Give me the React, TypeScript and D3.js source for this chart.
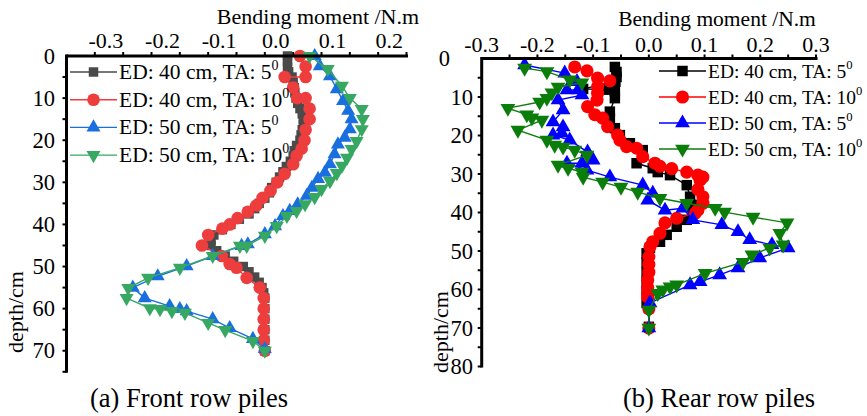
import * as d3 from 'd3';

// ---- data: [depth (cm), bending moment (N.m)] ----
const frontED40TA5: [number, number][] = [
  [0, 0.04], [1.25, 0.04], [2.5, 0.04], [3.75, 0.042], [5, 0.048], [6.25, 0.05], [7.5, 0.052],
  [8.75, 0.053], [10, 0.055], [11.25, 0.058], [12.5, 0.062], [13.75, 0.066], [15, 0.068],
  [16.25, 0.068], [17.5, 0.066], [18.75, 0.064], [20, 0.062], [21.25, 0.056], [22.5, 0.052],
  [23.75, 0.05], [25, 0.045], [26.25, 0.038], [27.5, 0.032], [28.75, 0.026], [30, 0.02],
  [31.25, 0.012], [32.5, 0.008], [33.75, 0], [35, -0.01], [36.25, -0.018], [37.5, -0.028],
  [38.75, -0.045], [40, -0.06], [41.25, -0.075], [42.5, -0.09], [43.75, -0.095], [45, -0.095],
  [46.25, -0.085], [47.5, -0.07], [48.75, -0.055], [50, -0.038], [51.25, -0.028], [52.5, -0.018],
  [53.75, -0.01], [55, -0.005], [56.25, -0.002], [57.5, 0], [60, 0], [62.5, 0], [65, 0],
  [67.5, 0], [70, 0],
];
const frontED40TA10: [number, number][] = [
  [0, 0.062], [2.5, 0.072], [5, 0.072], [5, 0.035], [7.5, 0.05], [10, 0.057], [10, 0.072],
  [12.5, 0.079], [15, 0.079], [17.5, 0.072], [20, 0.07], [22, 0.065], [23.7, 0.056], [25.7, 0.05],
  [28, 0.035], [30, 0.022], [32, 0.01], [33.7, -0.004], [35.5, -0.015], [37, -0.03],
  [38.5, -0.048], [40, -0.062], [41, -0.075], [42.5, -0.1], [45, -0.111], [47.5, -0.076],
  [49.4, -0.062], [50.3, -0.05], [52.7, -0.032], [55, -0.009], [57.5, -0.002], [60, -0.002],
  [62.5, -0.002], [65, -0.002], [67.5, -0.002], [70, 0],
];
const frontED50TA5: [number, number][] = [
  [0, 0.088], [2.4, 0.097], [4.8, 0.115], [7.9, 0.127], [10.7, 0.138], [13, 0.147], [15, 0.153],
  [17.4, 0.15], [19.4, 0.141], [21, 0.129], [23.3, 0.123], [25.7, 0.115], [27.7, 0.106],
  [29.2, 0.094], [31.3, 0.083], [33.2, 0.074], [35.2, 0.058], [36.8, 0.044], [38, 0.032],
  [40.4, 0.018], [42.3, 0], [44.7, -0.03], [45.1, -0.041], [47.5, -0.092], [49.9, -0.138],
  [52.3, -0.189], [55, -0.233], [57.5, -0.212], [59.4, -0.168], [60.1, -0.15], [60.6, -0.138],
  [62.5, -0.092], [64.6, -0.062], [67.2, -0.021], [69.6, 0],
];
const frontED50TA10: [number, number][] = [
  [0, 0.079], [3.1, 0.111], [7.1, 0.136], [10, 0.15], [12.6, 0.171], [15, 0.173], [17.4, 0.171],
  [20.2, 0.162], [22.1, 0.153], [24.2, 0.145], [26.1, 0.136], [27.8, 0.127], [29.7, 0.115],
  [31.6, 0.1], [33.5, 0.088], [35.2, 0.071], [36.8, 0.056], [38, 0.039], [40.4, 0.021],
  [42.7, 0], [45.1, -0.032], [45.1, -0.044], [47.5, -0.092], [50.3, -0.15], [52.7, -0.206],
  [55.1, -0.241], [57.5, -0.244], [59.9, -0.203], [60.1, -0.185], [60.6, -0.164], [61, -0.141],
  [63.4, -0.1], [65.1, -0.07], [67.7, -0.021], [70, 0],
];

const rearED40TA5: [number, number][] = [
  [2.2, -0.061], [3.5, -0.058], [4.8, -0.058], [6, -0.06], [7.9, -0.118], [8.1, -0.075],
  [8.5, -0.061], [10.3, -0.061], [13.8, -0.07], [15.5, -0.07], [18.1, -0.061], [19.9, -0.052],
  [22, -0.034], [23.8, -0.011], [27.2, -0.022], [28.5, 0.007], [29.5, 0.016], [30.3, 0.038],
  [32.9, 0.068], [35.9, 0.074], [38, 0.077], [39.9, 0.079], [41.9, 0.068], [43.7, 0.05],
  [45.8, 0.032], [47.6, 0.02], [49.2, 0.002], [50.6, -0.004], [53, -0.004], [55.5, -0.004],
  [58, -0.004], [60.5, -0.004], [63.5, -0.004], [64.8, 0], [69.7, 0],
];
const rearED40TA10: [number, number][] = [
  [2.2, -0.133], [3.2, -0.111], [5.1, -0.092], [5.8, -0.07], [7.3, -0.092], [9, -0.092],
  [10.8, -0.093], [12.5, -0.11], [14.6, -0.097], [15.5, -0.083], [17.7, -0.074], [19.9, -0.056],
  [21.2, -0.052], [22.9, -0.04], [23.3, -0.022], [25.5, -0.011], [27.2, 0.011], [28, 0.02],
  [28.6, 0.041], [29.5, 0.068], [30.3, 0.088], [30.8, 0.097], [31.6, 0.092], [34, 0.088],
  [35.9, 0.097], [37.6, 0.097], [39.4, 0.088], [40.2, 0.083], [41.5, 0.05], [42.7, 0.029],
  [45.4, 0.02], [47.6, 0.007], [48.9, 0.002], [51.5, 0], [53.5, 0], [55.5, 0], [57.5, -0.002],
  [59.5, -0.002], [61, -0.002], [62, -0.002], [65, 0], [70, 0],
];
const rearED50TA5: [number, number][] = [
  [1.7, -0.223], [3.8, -0.151], [6, -0.129], [8.2, -0.127], [8.2, -0.147], [9.5, -0.12],
  [10.8, -0.163], [13.4, -0.154], [16.5, -0.172], [17.8, -0.154], [19.4, -0.156], [19.9, -0.172],
  [21.2, -0.142], [24.3, -0.11], [26.4, -0.1], [27.2, -0.12], [27.2, -0.147], [29, -0.111],
  [30.8, -0.07], [32.9, -0.011], [35, 0.007], [36.8, -0.002], [39.4, 0.029], [38.9, 0.061],
  [41.9, 0.079], [43.2, 0.131], [45, 0.16], [47.1, 0.181], [48.4, 0.221], [49.2, 0.25],
  [51.8, 0.199], [54.4, 0.16], [56.2, 0.127], [58, 0.092], [58.8, 0.074], [63.5, 0.002], [70, 0],
];
const rearED50TA10: [number, number][] = [
  [2.5, -0.223], [3.4, -0.183], [5.5, -0.142], [6.3, -0.12], [7.4, -0.163], [8.9, -0.174],
  [10.3, -0.183], [11.3, -0.196], [12.9, -0.253], [14.6, -0.219], [15.4, -0.21], [16, -0.192],
  [18.6, -0.235], [21.2, -0.183], [22.5, -0.169], [23, -0.154], [23.8, -0.133], [25.1, -0.111],
  [27.7, -0.163], [28.5, -0.145], [29.5, -0.12], [30.8, -0.118], [32.1, -0.083], [33.4, -0.05],
  [34.7, -0.02], [36.3, 0.02], [37.6, 0.068], [38.9, 0.119], [39.9, 0.136], [41.2, 0.187],
  [42.7, 0.248], [45.4, 0.235], [48.4, 0.241], [49.2, 0.217], [51, 0.185], [52.9, 0.169],
  [55.8, 0.101], [58.8, 0.05], [59.3, 0.038], [60.1, 0.025], [61, 0.016], [65.3, 0], [70, 0],
];

const legendLabels = ['ED: 40 cm, TA: 5', 'ED: 40 cm, TA: 10', 'ED: 50 cm, TA: 5', 'ED: 50 cm, TA: 10'];
const frontColors = ['#4a4a4a', '#ee3d3d', '#1a6fdf', '#37a862'];
const rearColors = ['#000000', '#ff0000', '#0000ff', '#0b7d0b'];
const frontXTicks = [-0.3, -0.2, -0.1, 0.0, 0.1, 0.2];
const rearXTicks = [-0.3, -0.2, -0.1, 0.0, 0.1, 0.2, 0.3];
const frontYTicks = [0, 10, 20, 30, 40, 50, 60, 70];
const rearYTicks = [0, 10, 20, 30, 40, 50, 60, 70, 80];

const FONT = '"Liberation Serif", "Times New Roman", serif';
const symbols = [d3.symbolSquare, d3.symbolCircle, d3.symbolTriangle, d3.symbolTriangle];

function Marker({ k, x, y, color, sizes }: { k: number; x: number; y: number; color: string; sizes: number[] }) {
  const path = d3.symbol(symbols[k], sizes[k])() || '';
  const rot = k === 3 ? ' rotate(180)' : '';
  return <path d={path} transform={`translate(${x},${y})${rot}`} fill={color} />;
}

interface PanelProps {
  series: [number, number][][];
  colors: string[];
  xDomain: [number, number];
  xRange: [number, number];
  yDomain: [number, number];
  yRange: [number, number];
  xTicks: number[];
  yTicks: number[];
  xLabelDx: number;
  xLabelY: number;
  yLabelX: number;
  zeroLabelX: number;
  sizes: number[];
  legendX: number;
  legendY: number;
  legendGap: number;
  legendFont: number;
  titleX: number;
  titleY: number;
  titleFont: number;
  depthX: number;
  depthY: number;
  caption: string;
  captionX: number;
}

function Panel(p: PanelProps) {
  const x = d3.scaleLinear().domain(p.xDomain).range(p.xRange);
  const y = d3.scaleLinear().domain(p.yDomain).range(p.yRange);
  const line = d3.line<[number, number]>().x(d => x(d[1])).y(d => y(d[0]));
  const minorX = d3.range(Math.round(p.xDomain[0] / 0.05) + 1, Math.round(p.xDomain[1] / 0.05) + 1).map(i => i * 0.05);
  const minorY = d3.range(p.yDomain[0] + 5, p.yDomain[1] + 1, 5);
  const x0 = p.xRange[0];
  const y0 = p.yRange[0];
  return (
    <g fontFamily={FONT} fill="#000">
      {/* data */}
      {p.series.map((s, k) => (
        <g key={k}>
          <path d={line(s) || ''} fill="none" stroke={p.colors[k]} strokeWidth={1.4} />
          {s.map((d, i) => (
            <Marker key={i} k={k} x={x(d[1])} y={y(d[0])} color={p.colors[k]} sizes={p.sizes} />
          ))}
        </g>
      ))}
      {/* axes */}
      <line x1={x0} x2={p.xRange[1] + 1.5} y1={y0} y2={y0} stroke="#000" strokeWidth={3} />
      <line x1={x0} x2={x0} y1={y0 - 1.5} y2={p.yRange[1] + 1} stroke="#000" strokeWidth={3} />
      {minorX.map((v, i) => (
        <line key={i} x1={x(v)} x2={x(v)} y1={y0} y2={y0 - 4} stroke="#000" strokeWidth={2} />
      ))}
      {minorY.map((v, i) => (
        <line key={i} x1={x0} x2={x0 - 4} y1={y(v)} y2={y(v)} stroke="#000" strokeWidth={2} />
      ))}
      {p.xTicks.map((v, i) => (
        <text key={i} x={x(v) + p.xLabelDx} y={p.xLabelY} fontSize={22} textAnchor="middle">
          {d3.format('.1f')(v).replace('−', '-')}
        </text>
      ))}
      {p.yTicks.map((v, i) => (
        <text key={i} x={v === 0 ? p.zeroLabelX : p.yLabelX} y={y(v) + 7.5} fontSize={22.5} textAnchor="end">
          {v}
        </text>
      ))}
      {/* titles */}
      <text x={p.titleX} y={p.titleY} fontSize={p.titleFont} textAnchor="middle">Bending moment /N.m</text>
      <text transform={`translate(${p.depthX},${p.depthY}) rotate(-90)`} fontSize={22} textAnchor="middle">depth/cm</text>
      <text x={p.captionX} y={407} fontSize={26.5} textAnchor="middle">{p.caption}</text>
      {/* legend */}
      {legendLabels.map((lab, k) => {
        const ly = p.legendY + k * p.legendGap;
        return (
          <g key={k}>
            <line x1={p.legendX} x2={p.legendX + 47} y1={ly} y2={ly} stroke={p.colors[k]} strokeWidth={1.4} />
            <Marker k={k} x={p.legendX + 23.5} y={ly} color={p.colors[k]} sizes={p.sizes} />
            <text x={p.legendX + 49} y={ly + 7} fontSize={p.legendFont}>
              {lab}
              <tspan dy={-9} fontSize={p.legendFont * 0.65}>0</tspan>
            </text>
          </g>
        );
      })}
    </g>
  );
}

export default function App() {
  return (
    <svg width={867} height={416} style={{ position: 'absolute', left: 0, top: 0, background: '#fff' }}>
      <Panel
        series={[frontED40TA5, frontED40TA10, frontED50TA5, frontED50TA10]}
        colors={frontColors}
        xDomain={[-0.35, 0.25]}
        xRange={[66.5, 406.5]}
        yDomain={[0, 75]}
        yRange={[56, 371.8]}
        xTicks={frontXTicks}
        yTicks={frontYTicks}
        xLabelDx={11}
        xLabelY={48}
        yLabelX={55}
        zeroLabelX={55}
        sizes={[90, 125, 85, 85]}
        legendX={70}
        legendY={72}
        legendGap={27.7}
        legendFont={21.5}
        titleX={318}
        titleY={24}
        titleFont={22}
        depthX={23}
        depthY={312}
        caption="(a) Front row piles"
        captionX={189}
      />
      <Panel
        series={[rearED40TA5, rearED40TA10, rearED50TA5, rearED50TA10]}
        colors={rearColors}
        xDomain={[-0.3, 0.3]}
        xRange={[481.7, 816]}
        yDomain={[0, 80]}
        yRange={[58.5, 366.5]}
        xTicks={rearXTicks}
        yTicks={rearYTicks}
        xLabelDx={0}
        xLabelY={52}
        yLabelX={473}
        zeroLabelX={450}
        sizes={[110, 135, 95, 95]}
        legendX={659}
        legendY={71}
        legendGap={26}
        legendFont={19.5}
        titleX={717}
        titleY={26}
        titleFont={21.5}
        depthX={448}
        depthY={332}
        caption="(b) Rear row piles"
        captionX={719}
      />
    </svg>
  );
}
